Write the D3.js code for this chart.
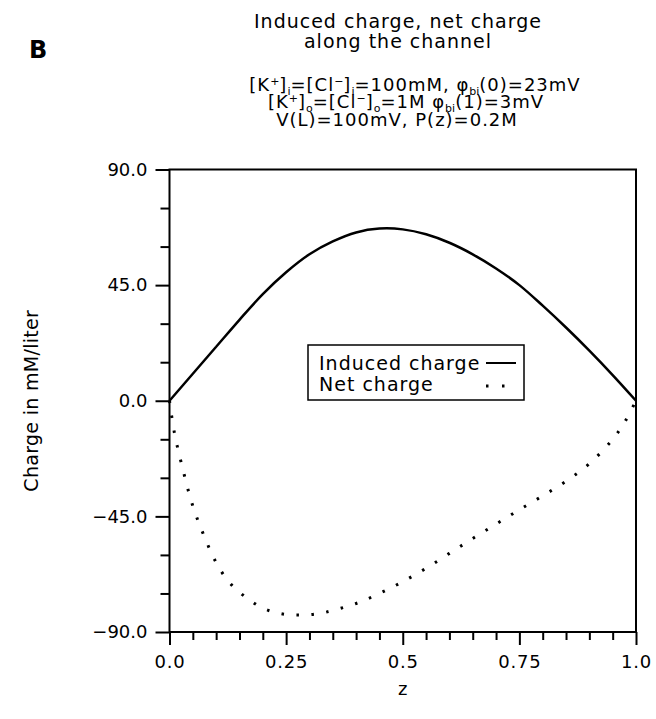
<!DOCTYPE html>
<html>
<head>
<meta charset="utf-8">
<script src="https://cdn.jsdelivr.net/npm/d3@7"></script>
<style>
  body { margin: 0; background: #fff; }
  svg { display: block; font-family: "DejaVu Sans", sans-serif; }
</style>
</head>
<body>
<div id="chart"></div>
<script>
// Induced charge / net charge along the channel (panel B)

const zInduced = [0, 0.05, 0.1, 0.15, 0.2, 0.25, 0.3, 0.35, 0.4, 0.45, 0.5,
    0.55, 0.6, 0.65, 0.7, 0.75, 0.8, 0.85, 0.9, 0.95, 1.0];
const inducedCharge = [0, 10.5, 21, 31.5, 41.5, 50, 57, 62, 65.5, 67, 66.7,
    64.8, 61.5, 57, 51.5, 45, 37, 28.5, 19.5, 10, 0];

const zNet = [0, 0.01, 0.025, 0.05, 0.075, 0.1, 0.125, 0.15, 0.175, 0.2, 0.225,
    0.25, 0.275, 0.3, 0.325, 0.35, 0.4, 0.45, 0.5, 0.55, 0.6, 0.65, 0.7,
    0.75, 0.8, 0.85, 0.9, 0.95, 0.975, 1.0];
const netCharge = [0, -12, -24, -41, -53, -63, -70, -74.5, -78, -80.7, -82.3,
    -83.2, -83.4, -83.3, -82.7, -81.6, -78.9, -75, -70.4, -65.2, -59.4, -53.6, -48,
    -42.4, -37, -31.3, -24.5, -15, -8.5, 0];

const yMajor = [-90, -45, 0, 45, 90];
const yMinor = [-75, -60, -30, -15, 15, 30, 60, 75];
const xMajor = [0, 0.25, 0.5, 0.75, 1.0];
const xMajorLabels = ['0.0', '0.25', '0.5', '0.75', '1.0'];
const xMinor = [0.05, 0.1, 0.15, 0.2, 0.3, 0.35, 0.4, 0.45, 0.55, 0.6, 0.65, 0.7, 0.8, 0.85, 0.9, 0.95];

const titleLines = [
    [{ t: 'Induced charge, net charge' }],
    [{ t: 'along the channel' }],
    [{ t: '[K' }, { t: '+', s: 'sup' }, { t: ']' }, { t: 'i', s: 'sub' }, { t: '=[Cl' }, { t: '\u2212', s: 'sup' },
     { t: ']' }, { t: 'i', s: 'sub' }, { t: '=100mM, \u03c6' }, { t: 'bi', s: 'sub' }, { t: '(0)=23mV' }],
    [{ t: '[K' }, { t: '+', s: 'sup' }, { t: ']' }, { t: 'o', s: 'sub' }, { t: '=[Cl' }, { t: '\u2212', s: 'sup' },
     { t: ']' }, { t: 'o', s: 'sub' }, { t: '=1M \u03c6' }, { t: 'bi', s: 'sub' }, { t: '(1)=3mV' }],
    [{ t: 'V(L)=100mV, P(z)=0.2M' }]
];

const width = 656, height = 719;
const margin = { top: 169.5, right: 20, bottom: 87, left: 169.5 };

const svg = d3.select('#chart').append('svg')
    .attr('width', width)
    .attr('height', height);

const x = d3.scaleLinear().domain([0, 1]).range([margin.left, width - margin.right]);
const y = d3.scaleLinear().domain([-90, 90]).range([height - margin.bottom, margin.top]);

// panel letter
svg.append('text')
    .attr('x', 29).attr('y', 58)
    .attr('font-size', 24).attr('font-weight', 'bold')
    .text('B');

// title block
const titleX = [398, 398, 415, 406, 397];
const titleY = [28, 48, 91, 108, 126];
const titleSize = [19, 19, 18, 18, 18];
titleLines.forEach((segs, i) => {
    const t = svg.append('text')
        .attr('x', titleX[i]).attr('y', titleY[i])
        .attr('text-anchor', 'middle')
        .attr('letter-spacing', 1)
        .attr('font-size', titleSize[i]);
    let shift = 0;
    segs.forEach(seg => {
        const target = seg.s === 'sup' ? -6 : seg.s === 'sub' ? 4 : 0;
        t.append('tspan')
            .attr('dy', target - shift)
            .attr('font-size', seg.s ? 11 : titleSize[i])
            .attr('letter-spacing', seg.s ? 0 : 1)
            .text(seg.t);
        shift = target;
    });
});

// axes
const yAxisMajor = d3.axisLeft(y).tickValues(yMajor).tickSize(14)
    .tickFormat(d3.format('.1f')).tickPadding(8);
const yAxisMinor = d3.axisLeft(y).tickValues(yMinor).tickSize(9).tickFormat('');
const xAxisMajor = d3.axisBottom(x).tickValues(xMajor).tickSize(13)
    .tickFormat((d, i) => xMajorLabels[i]).tickPadding(10);
const xAxisMinor = d3.axisBottom(x).tickValues(xMinor).tickSize(8).tickFormat('');

const bottomY = y(-90);

[yAxisMajor, yAxisMinor].forEach(ax => {
    svg.append('g')
        .attr('class', 'y-axis')
        .attr('transform', `translate(${margin.left},0)`)
        .call(ax)
        .call(g => g.select('.domain').remove());
});
[xAxisMajor, xAxisMinor].forEach(ax => {
    svg.append('g')
        .attr('class', 'x-axis')
        .attr('transform', `translate(0,${bottomY})`)
        .call(ax)
        .call(g => g.select('.domain').remove());
});

svg.selectAll('.tick line').attr('stroke', '#000').attr('stroke-width', 2);
svg.selectAll('.tick text')
    .attr('fill', '#000')
    .attr('font-size', 18)
    .attr('font-family', '"DejaVu Sans", sans-serif');
svg.selectAll('.x-axis .tick text').attr('letter-spacing', 0.8);

// frame
svg.append('rect')
    .attr('x', x(0)).attr('y', y(90))
    .attr('width', x(1) - x(0)).attr('height', y(-90) - y(90))
    .attr('fill', 'none').attr('stroke', '#000').attr('stroke-width', 2);

// axis titles
svg.append('text')
    .attr('transform', `translate(38,${y(0)}) rotate(-90)`)
    .attr('text-anchor', 'middle')
    .attr('font-size', 19)
    .attr('letter-spacing', 0.3)
    .text('Charge in mM/liter');

svg.append('text')
    .attr('x', x(0.5)).attr('y', 695)
    .attr('text-anchor', 'middle')
    .attr('font-size', 18)
    .text('z');

// curves
const line = d3.line()
    .x(d => x(d[0]))
    .y(d => y(d[1]))
    .curve(d3.curveCatmullRom.alpha(0.5));

svg.append('path')
    .datum(zInduced.map((z, i) => [z, inducedCharge[i]]))
    .attr('d', line)
    .attr('fill', 'none')
    .attr('stroke', '#000')
    .attr('stroke-width', 2.5);

svg.append('path')
    .datum(zNet.map((z, i) => [z, netCharge[i]]))
    .attr('d', line)
    .attr('fill', 'none')
    .attr('stroke', '#000')
    .attr('stroke-width', 3)
    .attr('stroke-dasharray', '2.5 12.5');

// legend
const legend = svg.append('g');
legend.append('rect')
    .attr('x', 308).attr('y', 345)
    .attr('width', 216).attr('height', 55)
    .attr('fill', '#fff').attr('stroke', '#000').attr('stroke-width', 1.5);
legend.append('text').attr('x', 319).attr('y', 370).attr('font-size', 19)
    .attr('letter-spacing', 1).text('Induced charge');
legend.append('text').attr('x', 319).attr('y', 391).attr('font-size', 19)
    .attr('letter-spacing', 1).text('Net charge');
legend.append('line')
    .attr('x1', 486).attr('x2', 516).attr('y1', 363).attr('y2', 363)
    .attr('stroke', '#000').attr('stroke-width', 2);
legend.append('line')
    .attr('x1', 486).attr('x2', 516).attr('y1', 386).attr('y2', 386)
    .attr('stroke', '#000').attr('stroke-width', 3)
    .attr('stroke-dasharray', '2.5 13.5');
</script>
</body>
</html>
